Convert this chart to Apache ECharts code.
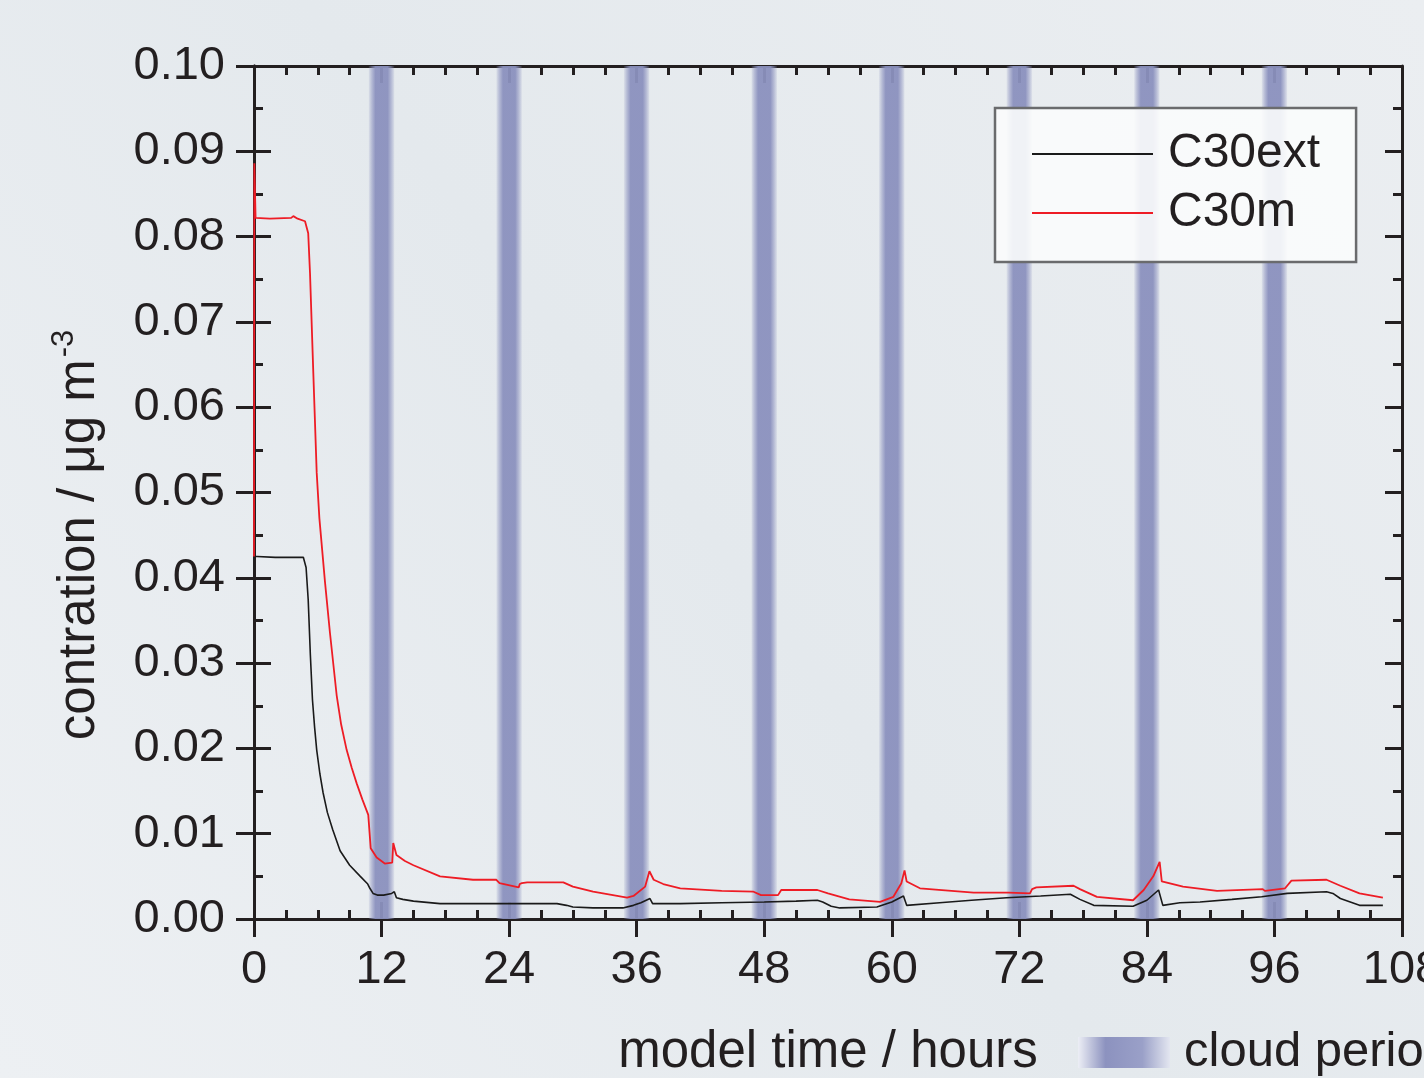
<!DOCTYPE html>
<html>
<head>
<meta charset="utf-8">
<script src="https://cdn.jsdelivr.net/npm/echarts@6/dist/echarts.min.js"></script>
<style>
  html, body { margin: 0; padding: 0; }
  #chart { width: 1424px; height: 1078px; }
</style>
</head>
<body>
<div id="chart"></div>
<script>
// Model time (hours) and concentrations (µg m^-3)
const timeExt = [0, 0.3, 2, 4.0, 4.64, 4.9, 5.1, 5.3, 5.5, 5.7, 5.9, 6.2, 6.5, 6.9, 7.4, 8.1, 9.0, 10.0, 10.7, 10.9, 11.2, 11.6, 12.2, 12.95, 13.2, 13.4, 14.0, 15.0, 17.5, 20.6, 23.8, 25.7, 28.5, 29.4, 30.0, 31.9, 34.7, 35.7, 36.4, 36.9, 37.25, 37.5, 40.1, 44, 48, 51, 53, 53.5, 54.3, 55.1, 58.6, 60.0, 61.1, 61.4, 64.5, 67.5, 70.8, 74, 76.8, 77.7, 79.0, 82.7, 84.0, 85.1, 85.5, 87.1, 89.0, 92, 94.8, 97.2, 100.9, 101.5, 102.2, 104.0, 106.2];
const c30ext = [0.0425, 0.0425, 0.0424, 0.0424, 0.0424, 0.0412, 0.0374, 0.0310, 0.0257, 0.0225, 0.0198, 0.0170, 0.0148, 0.0125, 0.0105, 0.0080, 0.0063, 0.0050, 0.0041, 0.0036, 0.0030, 0.0028, 0.0028, 0.0030, 0.0032, 0.0025, 0.0023, 0.0021, 0.0018, 0.0018, 0.0018, 0.0018, 0.0018, 0.0016, 0.0014, 0.0013, 0.0013, 0.0016, 0.0019, 0.0022, 0.0024, 0.0018, 0.0018, 0.0019, 0.0020, 0.0021, 0.0022, 0.0020, 0.0015, 0.0013, 0.0014, 0.0020, 0.0027, 0.0016, 0.0019, 0.0022, 0.0025, 0.0027, 0.0029, 0.0023, 0.0016, 0.0015, 0.0022, 0.0034, 0.0016, 0.0019, 0.0020, 0.0023, 0.0026, 0.0030, 0.0032, 0.0030, 0.0024, 0.0016, 0.0016];

const timeM = [0, 0.03, 0.15, 1.5, 3.5, 3.7, 4.1, 4.8, 5.1, 5.27, 5.58, 5.9, 6.15, 6.68, 7.15, 7.78, 8.2, 8.72, 9.2, 9.66, 10.2, 10.75, 10.98, 11.54, 12.3, 13.0, 13.1, 13.4, 14.2, 15.0, 17.5, 20.6, 22.8, 23.1, 24.9, 25.0, 25.2, 25.7, 29.1, 30.0, 31.9, 35.1, 35.7, 36.8, 37.2, 37.6, 38.5, 40.1, 44, 47.0, 47.7, 49.3, 49.6, 53, 54, 56, 58.9, 60.15, 60.9, 61.2, 61.4, 62.65, 67.7, 71.0, 71.1, 73.0, 73.2, 73.6, 77.1, 77.7, 79.3, 82.7, 83.7, 84.6, 85.2, 85.4, 87.4, 90.6, 94.9, 95.1, 97.0, 97.6, 100.9, 102.2, 104.0, 106.2];
const c30m = [0.0425, 0.0886, 0.0822, 0.0821, 0.0822, 0.0824, 0.0821, 0.0818, 0.0804, 0.0757, 0.0640, 0.0523, 0.0470, 0.0395, 0.0335, 0.0262, 0.0228, 0.0198, 0.0177, 0.0159, 0.0140, 0.0122, 0.0083, 0.0072, 0.0065, 0.0066, 0.0089, 0.0075, 0.0068, 0.0063, 0.0050, 0.0046, 0.0046, 0.0042, 0.0037, 0.0041, 0.0042, 0.0043, 0.0043, 0.0038, 0.0032, 0.0025, 0.0027, 0.0038, 0.0056, 0.0046, 0.0041, 0.0036, 0.0033, 0.0032, 0.0028, 0.0028, 0.0034, 0.0034, 0.0030, 0.0023, 0.0020, 0.0026, 0.0042, 0.0057, 0.0044, 0.0036, 0.0031, 0.0031, 0.0029, 0.0030, 0.0035, 0.0037, 0.0039, 0.0035, 0.0026, 0.0022, 0.0034, 0.0050, 0.0067, 0.0044, 0.0038, 0.0033, 0.0035, 0.0033, 0.0036, 0.0045, 0.0046, 0.0039, 0.0030, 0.0025];

// Cloud periods (hours)
const cloudStart = [10.8, 22.8, 34.8, 46.8, 58.8, 70.8, 82.8, 94.8];
const cloudEnd   = [13.2, 25.2, 37.2, 49.2, 61.2, 73.2, 85.2, 97.2];

const xTicks = { min: 0, max: 108, interval: 12 };
const yTicks = { min: 0, max: 0.10, interval: 0.01 };

const FONT = '"Liberation Sans", Arial, Helvetica, sans-serif';
const INK = '#231f20';

const pairs = (t, v) => t.map((x, i) => [x, v[i]]);

const bandGradient = new echarts.graphic.LinearGradient(0, 0, 1, 0, [
  { offset: 0, color: 'rgba(141,147,192,0.12)' },
  { offset: 0.12, color: 'rgba(141,147,192,0.55)' },
  { offset: 0.26, color: 'rgba(139,145,190,0.95)' },
  { offset: 0.74, color: 'rgba(139,145,190,0.95)' },
  { offset: 0.88, color: 'rgba(141,147,192,0.55)' },
  { offset: 1, color: 'rgba(141,147,192,0.12)' }
]);

const chart = echarts.init(document.getElementById('chart'), null, { renderer: 'canvas' });

const baseX = {
  type: 'value', min: xTicks.min, max: xTicks.max, interval: xTicks.interval,
  splitLine: { show: false },
  axisLine: { show: true, onZero: false, lineStyle: { color: INK, width: 3 } }
};
const baseY = {
  type: 'value', min: yTicks.min, max: yTicks.max, interval: yTicks.interval,
  splitLine: { show: false },
  axisLine: { show: true, onZero: false, lineStyle: { color: INK, width: 3 } }
};

chart.setOption({
  animation: false,
  graphic: [
    {
      type: 'rect', z: -100, silent: true,
      shape: { x: 0, y: 0, width: 1424, height: 1078 },
      style: {
        fill: new echarts.graphic.LinearGradient(1, 0, 0, 1, [
          { offset: 0, color: '#ebeef1' },
          { offset: 0.5, color: '#e4e9ed' },
          { offset: 1, color: '#edf0f3' }
        ])
      }
    },
    {
      type: 'text', silent: true,
      x: 80, y: 535, rotation: Math.PI / 2,
      style: {
        text: '{t|contration / μg m}{s|-3}',
        textAlign: 'center', textVerticalAlign: 'middle',
        fill: '#231f20',
        rich: {
          t: { fontSize: 51, fontFamily: FONT, fill: '#231f20' },
          s: { fontSize: 31, fontFamily: FONT, fill: '#231f20', padding: [0, 0, 32, 2] }
        }
      }
    },
    {
      type: 'rect', silent: true,
      shape: { x: 1078, y: 1037, width: 92, height: 31 },
      style: {
        fill: new echarts.graphic.LinearGradient(0, 0, 1, 0, [
          { offset: 0, color: '#eceef5' },
          { offset: 0.3, color: '#8c92bf' },
          { offset: 0.7, color: '#9aa0c8' },
          { offset: 1, color: '#e3e6f0' }
        ])
      }
    },
    {
      type: 'text', silent: true,
      x: 1184, y: 1052,
      style: { text: 'cloud period', font: '49px ' + FONT, fill: '#231f20', textVerticalAlign: 'middle' }
    }
  ],
  grid: { left: 254, right: 22, top: 66, bottom: 159, containLabel: false, outerBoundsMode: 'none' },
  legend: {
    data: ['C30ext', 'C30m'],
    orient: 'vertical',
    left: 995, top: 108,
    padding: [22, 36, 25, 37],
    itemGap: 11,
    itemWidth: 121, itemHeight: 2,
    icon: 'rect',
    backgroundColor: 'rgba(251,252,252,0.90)',
    borderColor: '#6a6b6d', borderWidth: 2.5, borderRadius: 0,
    textStyle: { fontSize: 48, fontFamily: FONT, color: '#231f20', padding: [0, 0, 0, 10] }
  },
  xAxis: [
    Object.assign({}, baseX, {
      position: 'bottom',
      name: 'model time / hours', nameLocation: 'middle', nameGap: 108,
      nameTextStyle: { fontSize: 51, fontFamily: FONT, color: '#231f20' },
      axisTick: { show: true, inside: false, length: 18, lineStyle: { color: INK, width: 3 } },
      axisLabel: { fontSize: 47, fontFamily: FONT, color: '#231f20', margin: 28, showMaxLabel: true }
    }),
    Object.assign({}, baseX, {
      position: 'bottom',
      axisTick: { show: true, inside: true, length: 17, lineStyle: { color: INK, width: 3 } },
      minorTick: { show: true, splitNumber: 4, length: 9, lineStyle: { color: INK, width: 3 } },
      axisLabel: { show: false }
    }),
    Object.assign({}, baseX, {
      position: 'top',
      axisTick: { show: true, inside: true, length: 17, lineStyle: { color: INK, width: 3 } },
      minorTick: { show: true, splitNumber: 4, length: 9, lineStyle: { color: INK, width: 3 } },
      axisLabel: { show: false }
    })
  ],
  yAxis: [
    Object.assign({}, baseY, {
      position: 'left',
      axisTick: { show: true, inside: false, length: 18, lineStyle: { color: INK, width: 3 } },
      axisLabel: {
        fontSize: 47, fontFamily: FONT, color: '#231f20', margin: 29,
        formatter: v => v.toFixed(2)
      }
    }),
    Object.assign({}, baseY, {
      position: 'left',
      axisTick: { show: true, inside: true, length: 17, lineStyle: { color: INK, width: 3 } },
      minorTick: { show: true, splitNumber: 2, length: 9, lineStyle: { color: INK, width: 3 } },
      axisLabel: { show: false }
    }),
    Object.assign({}, baseY, {
      position: 'right',
      axisTick: { show: true, inside: true, length: 17, lineStyle: { color: INK, width: 3 } },
      minorTick: { show: true, splitNumber: 2, length: 9, lineStyle: { color: INK, width: 3 } },
      axisLabel: { show: false }
    })
  ],
  series: [
    {
      name: 'cloud period', type: 'line', data: [], z: 1,
      xAxisIndex: 0, yAxisIndex: 0,
      markArea: {
        silent: true,
        itemStyle: { color: bandGradient },
        data: cloudStart.map((s, i) => [{ xAxis: s }, { xAxis: cloudEnd[i] }])
      }
    },
    {
      name: 'C30ext', type: 'line', z: 3,
      xAxisIndex: 0, yAxisIndex: 0,
      data: pairs(timeExt, c30ext),
      showSymbol: false, symbol: 'none',
      color: '#1a1a1a',
      lineStyle: { color: '#1a1a1a', width: 1.6 }
    },
    {
      name: 'C30m', type: 'line', z: 4,
      xAxisIndex: 0, yAxisIndex: 0,
      data: pairs(timeM, c30m),
      showSymbol: false, symbol: 'none',
      color: '#ee1c25',
      lineStyle: { color: '#ee1c25', width: 1.8 }
    }
  ]
});
</script>
</body>
</html>
